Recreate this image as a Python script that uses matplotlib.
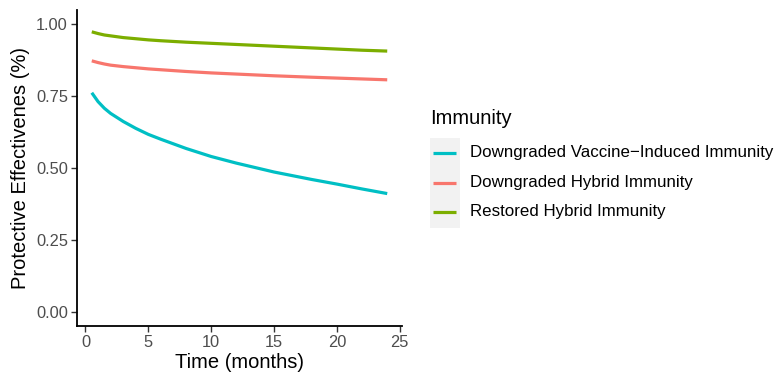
import matplotlib
matplotlib.use("Agg")
import matplotlib.pyplot as plt
from matplotlib.lines import Line2D
from matplotlib.patches import Rectangle

plt.rcParams['font.family'] = ['Liberation Sans', 'DejaVu Sans']

# Data
t_vacc = [0.5, 1, 1.5, 2, 3, 4, 5, 6, 8, 10, 12, 15, 18, 20, 22, 24]
vacc = [0.762, 0.731, 0.708, 0.690, 0.662, 0.638, 0.617, 0.600, 0.568,
        0.540, 0.517, 0.486, 0.460, 0.444, 0.427, 0.411]
t_hyb = [0.5, 1, 1.5, 2, 3, 4, 5, 6, 8, 10, 12, 15, 18, 20, 22, 24]
down_hybrid = [0.873, 0.867, 0.862, 0.858, 0.853, 0.849, 0.845, 0.842,
               0.836, 0.831, 0.827, 0.821, 0.816, 0.813, 0.810, 0.807]
rest_hybrid = [0.974, 0.968, 0.963, 0.960, 0.954, 0.950, 0.946, 0.943,
               0.938, 0.934, 0.930, 0.924, 0.918, 0.914, 0.910, 0.907]

labels = ["Downgraded Vaccine\u2212Induced Immunity",
          "Downgraded Hybrid Immunity",
          "Restored Hybrid Immunity"]
colors = ["#00BFC4", "#F8766D", "#7CAE00"]
xticks = [0, 5, 10, 15, 20, 25]
yticks = [0.0, 0.25, 0.5, 0.75, 1.0]
ytick_labels = ["0.00", "0.25", "0.50", "0.75", "1.00"]

W, H = 774, 379
fig = plt.figure(figsize=(W / 100, H / 100), dpi=100)
ax = fig.add_axes([77 / W, 1 - 326 / H, (402 - 77) / W, (326 - 10) / H])

series = [(t_vacc, vacc), (t_hyb, down_hybrid), (t_hyb, rest_hybrid)]
for (tx, y), c in zip(series, colors):
    ax.plot(tx, y, color=c, lw=2.3, solid_capstyle='butt')

ax.set_xlim(-0.675, 25.175)
ax.set_ylim(-0.05, 1.05)
ax.set_xticks(xticks)
ax.set_yticks(yticks)
ax.set_yticklabels(ytick_labels)
for s in ['top', 'right']:
    ax.spines[s].set_visible(False)
for s in ['left', 'bottom']:
    ax.spines[s].set_linewidth(1.3)
    ax.spines[s].set_color('black')
ax.tick_params(axis='both', colors='#333333', labelcolor='#4D4D4D',
               labelsize=11.8, length=4, width=1.0, pad=2.5)
ax.set_xlabel("Time (months)", fontsize=14.5, color='black', labelpad=2)
ax.set_ylabel("Protective Effectivenes (%)", fontsize=14.5, color='black', labelpad=4)

# Legend (manual, figure coordinates)
fig.text(430 / W, 1 - 119 / H, "Immunity", fontsize=14.5, va='center', ha='left')
fig.add_artist(Rectangle((430 / W, 1 - 228 / H), 30 / W, 90 / H,
                         transform=fig.transFigure, facecolor='#F2F2F2',
                         edgecolor='none'))
rows_y = [153, 182.5, 211.5]
for lab, c, yy in zip(labels, colors, rows_y):
    fig.add_artist(Line2D([433 / W, 456 / W], [1 - yy / H, 1 - yy / H],
                          transform=fig.transFigure, color=c, lw=2.3,
                          solid_capstyle='butt'))
    fig.text(470 / W, 1 - yy / H, lab, fontsize=12.2, va='center', ha='left',
             color='black')

fig.savefig("out.png", dpi=100)
